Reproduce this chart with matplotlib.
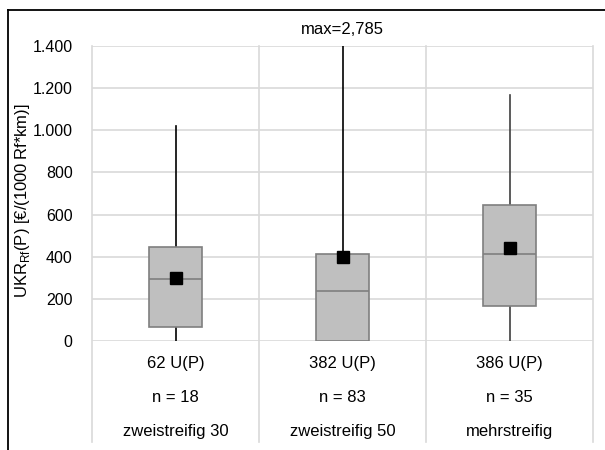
import matplotlib
matplotlib.use("Agg")
import matplotlib.pyplot as plt
from matplotlib.lines import Line2D
from matplotlib.ticker import FuncFormatter

plt.rcParams['font.family'] = ['Liberation Sans', 'DejaVu Sans']

# ---- data ----
categories = ["zweistreifig 30", "zweistreifig 50", "mehrstreifig"]
u_labels = ["62 U(P)", "382 U(P)", "386 U(P)"]
n_labels = ["n = 18", "n = 83", "n = 35"]
q1 = [68, 0, 168]
median = [294, 236, 414]
q3 = [445, 414, 645]
whisker_low = [0, 0, 0]
whisker_high = [1022, 2785, 1167]
means = [300, 400, 443]
whisker_colors = ["#000000", "#000000", "#404040"]
yticks = [0, 200, 400, 600, 800, 1000, 1200, 1400]
max_note = "max=2,785"

fs = 12

fig = plt.figure(figsize=(6.05, 4.5), dpi=100)
ax = fig.add_axes([92/605, (450-341)/450, (593-92)/605, (341-46)/450])

positions = [0.5 + i for i in range(len(categories))]
stats = []
for i in range(len(categories)):
    stats.append(dict(med=median[i], q1=q1[i], q3=q3[i], whislo=whisker_low[i],
                      whishi=whisker_high[i], mean=means[i], fliers=[]))

bp = ax.bxp(stats, positions=positions, widths=0.32, patch_artist=True,
            showmeans=True, showcaps=False, showfliers=False,
            boxprops=dict(facecolor="#BFBFBF", edgecolor="#7F7F7F", linewidth=1.2),
            medianprops=dict(color="#7F7F7F", linewidth=1.2),
            meanprops=dict(marker="s", markerfacecolor="black", markeredgecolor="black", markersize=8),
            whiskerprops=dict(color="black", linewidth=1.2), zorder=3)
for i, c in enumerate(whisker_colors):
    for w in (bp['whiskers'][2*i], bp['whiskers'][2*i+1]):
        w.set_color(c)
        w.set_zorder(2)

ax.set_xlim(0, 3)
ax.set_ylim(0, 1400)
ax.set_yticks(yticks)
ax.yaxis.set_major_formatter(FuncFormatter(lambda v, p: f"{int(v):,}".replace(",", ".")))
ax.set_xticks([])
ax.tick_params(axis='y', length=0, pad=14, labelsize=11.5)
for s in ax.spines.values():
    s.set_visible(False)
ax.grid(axis='y', color="#D9D9D9", linewidth=1.2, zorder=0)
ax.set_axisbelow(True)

# vertical separators extending into table area
trans = ax.get_xaxis_transform()
for xv in [0, 1, 2, 3]:
    ax.plot([xv, xv], [1.0, -0.342], transform=trans, color="#D9D9D9", linewidth=1.2,
            clip_on=False, zorder=0)

# table rows below
for i, p in enumerate(positions):
    ax.text(p, -0.0746, u_labels[i], transform=trans, ha='center', va='center', fontsize=fs)
    ax.text(p, -0.19, n_labels[i], transform=trans, ha='center', va='center', fontsize=fs)
    ax.text(p, -0.308, categories[i], transform=trans, ha='center', va='center', fontsize=fs)

ax.text(positions[1], 1.055, max_note, transform=trans, ha='center', va='center', fontsize=fs)

ax.set_ylabel("UKR$_{\\mathregular{Rf}}$(P) [€/(1000\u2009Rf*km)]", fontsize=fs)
ax.yaxis.set_label_coords((32-92)/501, (341-201)/295)

# outer frame (left and top)
fig.add_artist(Line2D([8/605, 8/605], [0, 1 - 10/450], transform=fig.transFigure, color="black", linewidth=1.3))
fig.add_artist(Line2D([8/605, 1], [1 - 10/450, 1 - 10/450], transform=fig.transFigure, color="black", linewidth=1.3))

fig.savefig("out.png", dpi=100)
